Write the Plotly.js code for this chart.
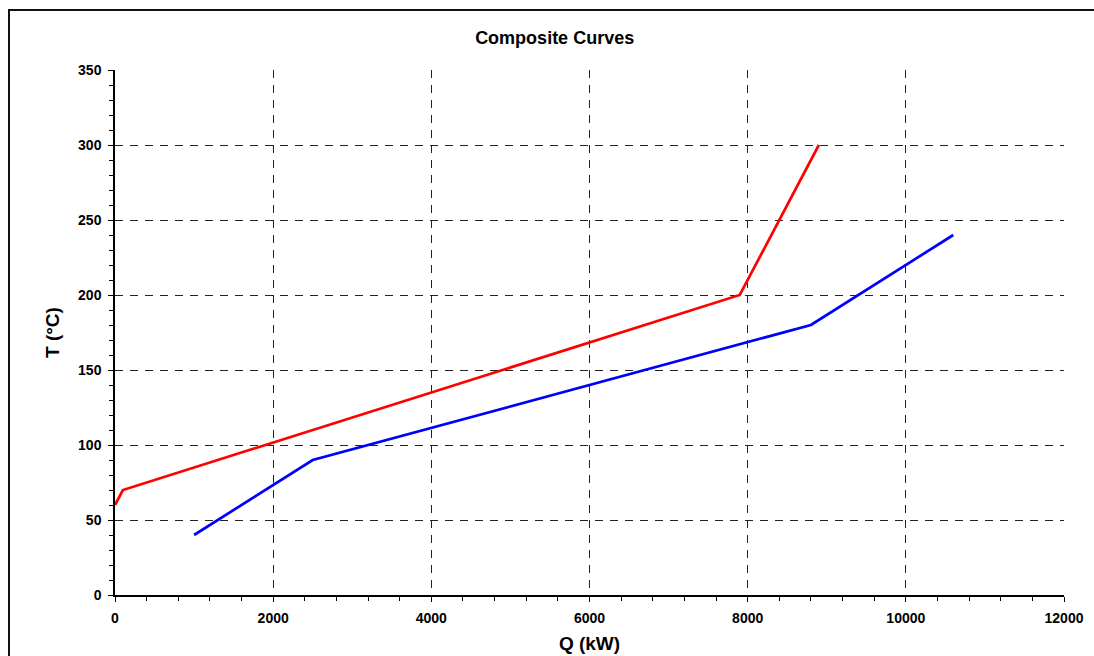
<!DOCTYPE html>
<html>
<head>
<meta charset="utf-8">
<script src="https://cdn.plot.ly/plotly-3.0.1.min.js"></script>
<style>
  html, body { margin: 0; padding: 0; background: #fff; overflow: hidden; }
  #wrap { position: relative; width: 1094px; height: 656px; overflow: hidden; }
  #chart { width: 1094px; height: 656px; }
  #frame { position: absolute; left: 8px; top: 9px; width: 1200px; height: 800px;
           border: 2px solid #111; pointer-events: none; }
</style>
</head>
<body>
<div id="wrap">
  <div id="chart"></div>
  <div id="frame"></div>
</div>
<script>
// Hot composite curve
const hotQ = [0, 100, 7900, 8900];
const hotT = [60, 70, 200, 300];
// Cold composite curve
const coldQ = [1000, 2500, 8800, 10600];
const coldT = [40, 90, 180, 240];

const chartTitle = "Composite Curves";
const xTitle = "Q (kW)";
const yTitle = "T (°C)";

const FONT = "Arial, 'Liberation Sans', Helvetica, sans-serif";

const traces = [
  { x: hotQ, y: hotT, type: "scatter", mode: "lines", name: "Hot",
    line: { color: "#ff0000", width: 2.7 }, hoverinfo: "x+y" },
  { x: coldQ, y: coldT, type: "scatter", mode: "lines", name: "Cold",
    line: { color: "#0000ff", width: 2.7 }, hoverinfo: "x+y" }
];

const layout = {
  width: 1094, height: 656,
  paper_bgcolor: "#ffffff", plot_bgcolor: "#ffffff",
  showlegend: false,
  margin: { l: 114.5, r: 30, t: 69.5, b: 61, pad: 0 },
  font: { family: FONT, color: "#000" },
  title: {
    text: "<b>" + chartTitle + "</b>",
    font: { family: FONT, size: 18, color: "#000" },
    xref: "container", x: 0.507, xanchor: "center",
    yref: "container", y: 1 - 38 / 656, yanchor: "middle"
  },
  xaxis: {
    range: [0, 12000], dtick: 2000, tick0: 0,
    tickformat: "d", separatethousands: false, exponentformat: "none",
    showline: true, linecolor: "#000", linewidth: 1.5, mirror: false,
    zeroline: false,
    showgrid: true, gridcolor: "#222", gridwidth: 1, griddash: "8px,7px",
    ticks: "outside", ticklen: 5, tickwidth: 1.2, tickcolor: "#000",
    ticklabelstandoff: 4,
    tickfont: { family: FONT, size: 14, color: "#000", weight: "bold" },
    minor: { dtick: 400, ticks: "outside", ticklen: 4, tickwidth: 1, tickcolor: "#000", showgrid: false },
    title: { text: "<b>" + xTitle + "</b>", font: { family: FONT, size: 19, color: "#000" }, standoff: 12 },
    automargin: false, fixedrange: true
  },
  yaxis: {
    range: [0, 350], dtick: 50, tick0: 0,
    tickformat: "d", exponentformat: "none",
    showline: true, linecolor: "#000", linewidth: 1.5, mirror: false,
    zeroline: false,
    showgrid: true, gridcolor: "#222", gridwidth: 1, griddash: "8px,7px",
    ticks: "outside", ticklen: 5, tickwidth: 1.2, tickcolor: "#000",
    ticklabelstandoff: 4,
    tickfont: { family: FONT, size: 14, color: "#000", weight: "bold" },
    minor: { dtick: 10, ticks: "outside", ticklen: 4, tickwidth: 1, tickcolor: "#000", showgrid: false },
    title: { text: "<b>" + yTitle + "</b>", font: { family: FONT, size: 19, color: "#000" }, standoff: 13 },
    automargin: false, fixedrange: true
  }
};

Plotly.newPlot("chart", traces, layout, { displayModeBar: false });
</script>
</body>
</html>
